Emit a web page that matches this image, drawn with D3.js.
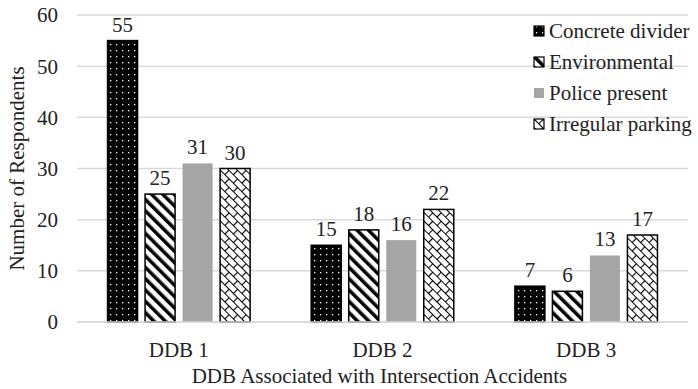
<!DOCTYPE html>
<html><head><meta charset="utf-8">
<script src="https://cdn.jsdelivr.net/npm/d3@7"></script>
<style>body{margin:0;background:#fff}svg{display:block}</style>
</head><body><svg id="c" width="698" height="389"></svg>
<script>
const categories = ["DDB 1","DDB 2","DDB 3"];
const seriesNames = ["Concrete divider","Environmental","Police present","Irregular parking"];
const concrete = [55,15,7];
const environmental = [25,18,6];
const police = [31,16,13];
const irregular = [30,22,17];
const yTicks = [0,10,20,30,40,50,60];
const allSeries = [concrete, environmental, police, irregular];

const FONT = "'Liberation Serif', 'Times New Roman', serif";
const FS = 21;
const svg = d3.select("#c");
const m = {l:77, r:10, t:15, b:67};
const W = 698, H = 389;
const x0 = d3.scaleBand().domain(categories).range([m.l, W-m.r]).paddingInner(0.3).paddingOuter(0.15);
const x1 = d3.scaleBand().domain(seriesNames).range([0, x0.bandwidth()]).paddingInner(0.2);
const y = d3.scaleLinear().domain([0,60]).range([H-m.b, m.t]);

// patterns
const defs = svg.append("defs");
const p1 = defs.append("pattern").attr("id","pDots").attr("patternUnits","userSpaceOnUse").attr("width",12).attr("height",12);
p1.append("rect").attr("width",12).attr("height",12).attr("fill","#000");
[[2,2],[8,8],[8,2],[2,8]].forEach(([a,b])=>p1.append("rect").attr("x",a).attr("y",b).attr("width",1.3).attr("height",1.3).attr("fill","#fff"));
const p2 = defs.append("pattern").attr("id","pStripe").attr("patternUnits","userSpaceOnUse").attr("width",8).attr("height",8).attr("patternTransform","rotate(-45)");
p2.append("rect").attr("width",8).attr("height",8).attr("fill","#fff");
p2.append("rect").attr("width",3.5).attr("height",8).attr("fill","#000");
const p4 = defs.append("pattern").attr("id","pBrick").attr("patternUnits","userSpaceOnUse").attr("width",12).attr("height",12).attr("patternTransform","rotate(45)");
p4.append("rect").attr("width",12).attr("height",12).attr("fill","#fff");
p4.append("path").attr("d","M0,0.5H12M0,6.5H12M0.5,0V6.5M6.5,6.5V12").attr("stroke","#000").attr("stroke-width",1.2).attr("fill","none");
const fills = ["url(#pDots)","url(#pStripe)","#a5a5a5","url(#pBrick)"];
const strokes = ["#000","#000","none","#000"];

// grid
svg.append("g").selectAll("line").data(yTicks).join("line")
  .attr("x1", m.l).attr("x2", W-m.r).attr("y1", d=>y(d)).attr("y2", d=>y(d))
  .attr("stroke","#d9d9d9").attr("stroke-width",1.5);

// y axis labels
svg.append("g").selectAll("text").data(yTicks).join("text")
  .attr("x", 58).attr("y", d=>y(d)).attr("dy","0.35em").attr("text-anchor","end")
  .style("font-family",FONT).style("font-size",FS+"px").attr("fill","#222").text(d=>d);

// bars
const g = svg.append("g");
categories.forEach((c,ci)=>{
  seriesNames.forEach((s,si)=>{
    const v = allSeries[si][ci];
    const bx = x0(c)+x1(s);
    g.append("rect").attr("x",bx).attr("y",y(v)).attr("width",x1.bandwidth()).attr("height",y(0)-y(v))
      .attr("fill",fills[si]).attr("stroke",strokes[si]).attr("stroke-width",1.5);
    g.append("text").attr("x",bx+x1.bandwidth()/2).attr("y",y(v)-9).attr("text-anchor","middle")
      .style("font-family",FONT).style("font-size",FS+"px").attr("fill","#222").text(v);
  });
});

// x axis
const xa = svg.append("g").attr("transform",`translate(0,${y(0)})`).call(d3.axisBottom(x0).tickSize(0).tickPadding(20));
xa.select(".domain").attr("stroke","#d9d9d9").attr("stroke-width",1.5).attr("d",`M${m.l},0H${W-m.r}`);
xa.selectAll("text").style("font-size",FS+"px").attr("fill","#222").style("font-family",FONT);

svg.append("text").attr("x",(m.l+W-m.r)/2 - 3).attr("y",383).attr("text-anchor","middle").style("font-family",FONT).style("font-size",FS+"px").attr("fill","#222").text("DDB Associated with Intersection Accidents");
svg.append("text").attr("transform",`translate(24,${(m.t+H-m.b)/2}) rotate(-90)`).attr("text-anchor","middle").style("font-family",FONT).style("font-size",FS+"px").attr("fill","#222").text("Number of Respondents");

// legend
const leg = svg.append("g");
seriesNames.forEach((s,i)=>{
  const ly = 31 + i*31;
  leg.append("rect").attr("x",534).attr("y",ly-5).attr("width",10).attr("height",10).attr("fill",fills[i]).attr("stroke",strokes[i]).attr("stroke-width",1.2);
  leg.append("text").attr("x",549).attr("y",ly).attr("dy","0.35em").style("font-family",FONT).style("font-size",FS+"px").attr("fill","#222").text(s);
});
</script></body></html>
